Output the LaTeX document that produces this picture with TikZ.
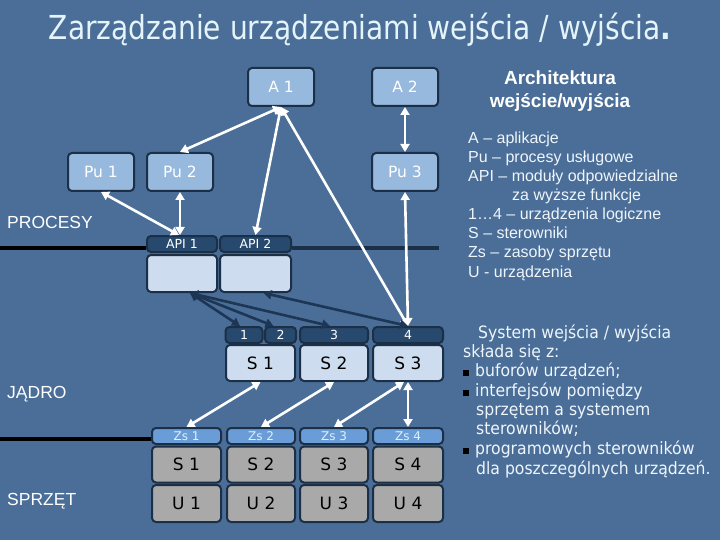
\documentclass[tikz,border=0pt]{standalone}
\usepackage{fontspec}
\setmainfont{DejaVu Sans}
\newfontfamily\tah{DejaVu Sans}
\newfontfamily\tahnarrow[FakeStretch=0.92]{DejaVu Sans}
\newfontfamily\tahtitle[FakeStretch=0.85]{DejaVu Sans}
\newfontfamily\ari{Liberation Sans}
\usetikzlibrary{arrows.meta}
\definecolor{bg}{HTML}{4A6E98}
\definecolor{navy}{HTML}{1B2F47}
\definecolor{boxblue}{HTML}{97B9DD}
\definecolor{darkhdr}{HTML}{28496E}
\definecolor{lightbox}{HTML}{CDDCEE}
\definecolor{zsblue}{HTML}{6A9DD8}
\definecolor{zstext}{HTML}{DDF0FF}
\definecolor{hwgray}{HTML}{A9A9A9}
\definecolor{txt}{HTML}{EEF5FB}
\definecolor{titletxt}{HTML}{E4F4FA}
\definecolor{darkarr}{HTML}{1D3656}
\tikzset{
  bx/.style={draw=navy, line width=2pt, rounded corners=4pt, inner sep=0pt, align=center},
  proc/.style={bx, fill=boxblue, minimum width=66pt, minimum height=38pt, text=white, font=\tah\fontsize{15.5}{18}\selectfont},
  hdr/.style={bx, fill=darkhdr, minimum height=16pt, text=white, font=\tah\fontsize{12.5}{14}\selectfont},
  body/.style={bx, fill=lightbox, minimum height=37pt},
  drv/.style={bx, fill=lightbox, minimum height=36pt, font=\tah\fontsize{17}{18}\selectfont},
  zs/.style={bx, fill=zsblue, minimum height=16pt, text=zstext, font=\tah\fontsize{12}{14}\selectfont},
  hw/.style={bx, fill=hwgray, minimum height=36pt, font=\tah\fontsize{17}{18}\selectfont},
  warr/.style={draw=white, line width=2.6pt, {Triangle[width=9pt,length=8pt]}-{Triangle[width=9pt,length=8pt]}},
  darr/.style={draw=darkarr, line width=2.6pt, {Triangle[width=9pt,length=8pt]}-{Triangle[width=9pt,length=8pt]}},
  lbl/.style={text=white, font=\ari\fontsize{17.5}{20}\selectfont, anchor=base west, inner sep=0pt},
  leg/.style={text=txt, font=\ari\fontsize{16}{19}\selectfont, anchor=base west, inner sep=0pt},
  sys/.style={text=txt, font=\tahnarrow\fontsize{17}{19}\selectfont, anchor=base west, inner sep=0pt},
  bul/.style={fill=black, minimum size=6pt, inner sep=0pt}
}
\begin{document}
\begin{tikzpicture}[x=1pt,y=-1pt]
\fill[bg] (0,0) rectangle (720,540);
\path[use as bounding box] (0,0) rectangle (720,540);

% title
\node[text=titletxt, font=\tahtitle\fontsize{33}{36}\selectfont, anchor=base] (title) at (360,40) {Zarządzanie urządzeniami wejścia / wyjścia\textbf{.}};

% separator lines
\coordinate (pl) at (0,248);
\coordinate (pr) at (439,248);
\coordinate (jl) at (0,439);

% process level
\node[proc] (A1) at (281,87) {A 1};
\node[proc] (A2) at (405,87) {A 2};
\node[proc] (Pu1) at (101,172) {Pu 1};
\node[proc] (Pu2) at (180,172) {Pu 2};
\node[proc] (Pu3) at (405,172) {Pu 3};

% API
\node[hdr, minimum width=70pt] (API1h) at (182,244) {API 1};
\node[hdr, minimum width=71pt] (API2h) at (255.5,244) {API 2};
\node[body, minimum width=70pt] (API1b) at (182,273.5) {};
\node[body, minimum width=71pt] (API2b) at (255.5,273.5) {};

\draw[black, line width=4pt] (pl) -- (pl -| API1h.west);
\draw[navy, line width=4pt] (pr -| API2h.east) -- (pr);

% logical devices
\node[hdr, minimum width=37pt] (L1) at (244,335) {1};
\node[hdr, minimum width=31pt] (L2) at (280.5,335) {2};
\node[hdr, minimum width=68pt] (L3) at (334,335) {3};
\node[hdr, minimum width=70pt] (L4) at (408,335) {4};

% drivers
\node[drv, minimum width=69pt] (D1) at (260.5,363) {S 1};
\node[drv, minimum width=68pt] (D2) at (334,363) {S 2};
\node[drv, minimum width=70pt] (D3) at (408,363) {S 3};

% hardware
\node[zs, minimum width=69pt] (Z1) at (186.5,436) {Zs 1};
\node[zs, minimum width=68pt] (Z2) at (261,436) {Zs 2};
\node[zs, minimum width=68pt] (Z3) at (334,436) {Zs 3};
\node[zs, minimum width=70pt] (Z4) at (408,436) {Zs 4};
\node[hw, minimum width=69pt] (H1) at (186.5,464.5) {S 1};
\node[hw, minimum width=68pt] (H2) at (261,464.5) {S 2};
\node[hw, minimum width=68pt] (H3) at (334,464.5) {S 3};
\node[hw, minimum width=70pt] (H4) at (408,464.5) {S 4};
\node[hw, minimum width=69pt, minimum height=37pt] (U1) at (186.5,503.5) {U 1};
\node[hw, minimum width=68pt, minimum height=37pt] (U2) at (261,503.5) {U 2};
\node[hw, minimum width=68pt, minimum height=37pt] (U3) at (334,503.5) {U 3};
\node[hw, minimum width=70pt, minimum height=37pt] (U4) at (408,503.5) {U 4};

\draw[black, line width=4pt] (jl) -- (jl -| Z1.west);

% white arrows
\draw[warr] (A1.south) -- (Pu2.north);
\draw[warr] (A1.south) -- (API2h.north);
\draw[warr] (A1.south) -- (L4.north);
\draw[warr] (A2.south) -- (Pu3.north);
\draw[warr] (Pu3.south) -- (L4.north);
\draw[warr] (Pu1.south) -- ([xshift=-3pt]API1h.north);
\draw[warr] (Pu2.south) -- ([xshift=-2pt]API1h.north);
\draw[warr] (D1.south) -- (Z1.north);
\draw[warr] (D2.south) -- (Z2.north);
\draw[warr] ([xshift=-4pt]D3.south) -- (Z3.north);
\draw[warr] (D3.south) -- (Z4.north);

% dark arrows
\draw[darr] ([xshift=8pt]API1b.south) -- ([xshift=-4pt]L1.north);
\draw[darr] ([xshift=8pt]API1b.south) -- ([xshift=-7pt]L2.north);
\draw[darr] ([xshift=8pt]API1b.south) -- ([xshift=-4pt]L3.north);
\draw[darr] ([xshift=8pt]API2b.south) -- (L4.north);

% layer labels
\node[lbl] (procesy) at (7,229) {PROCESY};
\node[lbl] (jadro) at (7,398) {JĄDRO};
\node[lbl] (sprzet) at (7,505) {SPRZĘT};

% legend
\node[text=white, font=\ari\bfseries\fontsize{19}{23}\selectfont, align=center, anchor=base] (arch1) at (560,85) {Architektura};
\node[text=white, font=\ari\bfseries\fontsize{19}{23}\selectfont, align=center, anchor=base] (arch2) at (560,108) {wejście/wyjścia};
\node[leg] (lg1) at (468,144) {A – aplikacje};
\node[leg] (lg2) at (468,163) {Pu – procesy usługowe};
\node[leg] (lg3) at (468,182) {API – moduły odpowiedzialne};
\node[leg] (lg4) at (512,201) {za wyższe funkcje};
\node[leg] (lg5) at (468,220) {1…4 – urządzenia logiczne};
\node[leg] (lg6) at (468,239) {S – sterowniki};
\node[leg] (lg7) at (468,258) {Zs – zasoby sprzętu};
\node[leg] (lg8) at (468,277) {U - urządzenia};

% system description
\node[sys] (s1) at (478,338) {System wejścia / wyjścia};
\node[sys] (s2) at (463,357) {składa się z:};
\node[bul] (b1) at (466,373) {};
\node[sys] (s3) at (475,376) {buforów urządzeń;};
\node[bul] (b2) at (466,393) {};
\node[sys] (s4) at (475,396) {interfejsów pomiędzy};
\node[sys] (s5) at (476,415) {sprzętem a systemem};
\node[sys] (s6) at (476,434) {sterowników;};
\node[bul] (b3) at (466,451) {};
\node[sys] (s7) at (475,454) {programowych sterowników};
\node[sys] (s8) at (476,474) {dla poszczególnych urządzeń.};
\end{tikzpicture}
\end{document}
